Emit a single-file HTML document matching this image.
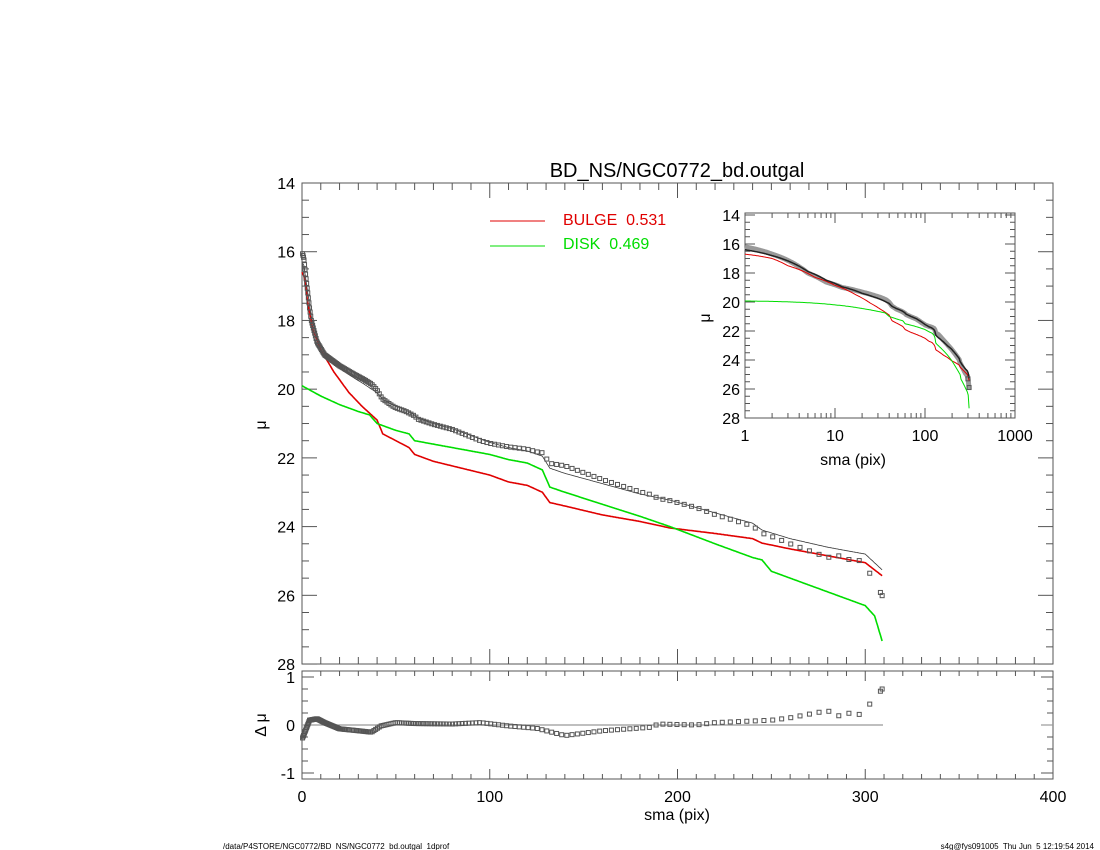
<!DOCTYPE html>
<html><head><meta charset="utf-8"><style>
body{margin:0;background:#fff;}
svg{display:block;font-family:"Liberation Sans",sans-serif;}
</style></head><body>
<svg id="s" width="1100" height="850" xmlns="http://www.w3.org/2000/svg"></svg>
<script>
const S=document.getElementById('s');let h='';
function interp(a,s){if(s<=a[0][0])return a[0][1];for(let i=1;i<a.length;i++){if(s<=a[i][0]){const t=(s-a[i-1][0])/(a[i][0]-a[i-1][0]);return a[i-1][1]+t*(a[i][1]-a[i-1][1]);}}return a[a.length-1][1];}
const model=[[0,16.3],[1,16.4],[2,16.8],[5,17.9],[8,18.5],[12,18.95],[20,19.4],[27,19.65],[33,19.85],[37,20.0],[40,20.1],[43,20.3],[48,20.45],[55,20.6],[60,20.75],[62,20.85],[70,21.0],[80,21.15],[90,21.35],[100,21.55],[110,21.7],[120,21.8],[128,21.95],[132,22.3],[140,22.45],[160,22.75],[180,23.05],[196,23.23],[220,23.6],[240,23.9],[245,24.1],[260,24.35],[280,24.6],[300,24.8],[309,25.26]];
const bulge=[[0,16.6],[1,16.7],[2,17.0],[3,17.5],[6,18.3],[10,18.85],[17,19.5],[25,20.1],[32,20.5],[36,20.7],[40,20.9],[43,21.3],[50,21.5],[57,21.7],[60,21.9],[70,22.1],[100,22.5],[110,22.7],[120,22.8],[128,23.0],[132,23.3],[140,23.4],[160,23.66],[180,23.85],[196,24.04],[220,24.2],[240,24.35],[245,24.48],[260,24.65],[280,24.85],[300,25.05],[309,25.43]];
const disk=[[0,19.9],[10,20.2],[20,20.45],[30,20.65],[36,20.75],[40,21.0],[50,21.2],[57,21.3],[60,21.5],[80,21.7],[100,21.9],[110,22.05],[120,22.15],[128,22.35],[132,22.85],[140,23.0],[160,23.35],[180,23.7],[196,24.0],[220,24.5],[240,24.9],[245,24.97],[250,25.3],[260,25.5],[280,25.9],[300,26.3],[305,26.6],[309,27.33]];
const resid=[[0,-0.3],[2,-0.1],[4,0.1],[8,0.13],[12,0.05],[20,-0.08],[30,-0.12],[37,-0.15],[42,-0.02],[50,0.05],[60,0.03],[80,0.02],[95,0.05],[110,-0.02],[125,-0.07],[140,-0.22],[160,-0.12],[185,-0.05],[190,0.02],[210,0],[220,0.05],[250,0.1],[260,0.15],[280,0.3],[285,0.18],[290,0.25],[297,0.22],[304,0.5],[309,0.75]];
const X=s=>302+s*1.8775, Y=m=>183+(m-14)*34.36;
const IX=s=>745+90*Math.log10(s), IY=m=>215+(m-14)*14.5;
const RY=r=>725-48*r;
function line(fx,fy,a,col,w,s0,s1){let p=[];for(let s=s0;s<=s1;s+=0.5){p.push(fx(s).toFixed(1)+','+fy(interp(a,s)).toFixed(1));}h+=`<polyline points="${p.join(' ')}" fill="none" stroke="${col}" stroke-width="${w}"/>`;}
let pts=[];let s=0.3;while(s<=309.5){pts.push(s);s=s*1.018+0.25;}pts.push(309);
h+=`<rect x="302" y="183" width="751" height="481" fill="none" stroke="#555" stroke-width="1"/>`;
for(let v=0;v<=400;v+=10){const x=X(v),L=v%100==0?15:7;h+=`<line x1="${x}" y1="664" x2="${x}" y2="${664-L}" stroke="#555"/><line x1="${x}" y1="183" x2="${x}" y2="${183+L}" stroke="#555"/>`;}
for(let m=14;m<=28;m+=0.5){const y=Y(m),L=m%2==0?15:7;h+=`<line x1="302" y1="${y}" x2="${302+L}" y2="${y}" stroke="#555"/><line x1="1053" y1="${y}" x2="${1053-L}" y2="${y}" stroke="#555"/>`;if(m%2==0)h+=`<text x="295" y="${y+6}" font-size="16" text-anchor="end">${m}</text>`;}
h+=`<text x="266" y="425" font-size="16" transform="rotate(-90 266 425)" text-anchor="middle">μ</text>`;
h+=`<text x="677" y="177" font-size="20" text-anchor="middle">BD_NS/NGC0772_bd.outgal</text>`;
line(X,Y,bulge,'#e00000',1.6,0,309);
line(X,Y,disk,'#00dd00',1.6,0,309);
line(X,Y,model,'#333',0.8,0,309);
for(const p of pts){const m=interp(model,p)+interp(resid,p);h+=`<rect x="${X(p)-2}" y="${Y(m)-2}" width="4" height="4" fill="none" stroke="#555" stroke-width="1"/>`;}
h+=`<line x1="490" y1="221" x2="545" y2="221" stroke="#e00000"/><text x="563" y="225" font-size="16" fill="#e00000">BULGE&#160; 0.531</text>`;
h+=`<line x1="490" y1="246" x2="545" y2="246" stroke="#00dd00"/><text x="563" y="249" font-size="16" fill="#00dd00">DISK&#160; 0.469</text>`;
h+=`<rect x="745" y="213" width="270" height="205" fill="#fff" stroke="#555"/>`;
for(let d=0;d<3;d++)for(let k=1;k<10;k++){const v=k*Math.pow(10,d),x=IX(v),L=k==1?10:5;h+=`<line x1="${x}" y1="418" x2="${x}" y2="${418-L}" stroke="#555"/><line x1="${x}" y1="213" x2="${x}" y2="${213+L}" stroke="#555"/>`;}
[1,10,100,1000].forEach(v=>{h+=`<text x="${IX(v)}" y="441" font-size="16" text-anchor="middle">${v}</text>`;});
for(let m=14;m<=28;m+=0.5){const y=IY(m),L=m%2==0?10:5;h+=`<line x1="745" y1="${y}" x2="${745+L}" y2="${y}" stroke="#555"/><line x1="1015" y1="${y}" x2="${1015-L}" y2="${y}" stroke="#555"/>`;if(m%2==0)h+=`<text x="740" y="${y+6}" font-size="16" text-anchor="end">${m}</text>`;}
h+=`<text x="853" y="465" font-size="16" text-anchor="middle">sma (pix)</text>`;
h+=`<text x="710" y="318" font-size="16" transform="rotate(-90 710 318)" text-anchor="middle">μ</text>`;
function lline(a,col,w){let p=[];for(let e=0;e<=Math.log10(309);e+=0.01){const v=Math.pow(10,e);p.push(IX(v).toFixed(1)+','+IY(interp(a,v)).toFixed(1));}p.push(IX(309)+','+IY(interp(a,309)));h+=`<polyline points="${p.join(' ')}" fill="none" stroke="${col}" stroke-width="${w}"/>`;}
const dat=model.map(q=>[q[0],q[1]+interp(resid,q[0])]);
lline(dat,'#999',5);lline(bulge,'#e00000',1);lline(disk,'#00dd00',1);lline(model,'#222',1.5);
h+=`<rect x="${IX(300)-2}" y="${IY(25.3)-2}" width="4" height="4" fill="none" stroke="#555"/><rect x="${IX(309)-2}" y="${IY(25.9)-2}" width="4" height="4" fill="none" stroke="#555"/>`;
h+=`<rect x="302" y="671" width="751" height="108" fill="none" stroke="#555"/>`;
for(let v=0;v<=400;v+=10){const x=X(v),L=v%100==0?10:5;h+=`<line x1="${x}" y1="779" x2="${x}" y2="${779-L}" stroke="#555"/><line x1="${x}" y1="671" x2="${x}" y2="${671+L}" stroke="#555"/>`;}
for(let r=-1;r<=1.001;r+=0.25){const y=RY(r),L=Math.abs(r%1)<0.01?12:6;h+=`<line x1="302" y1="${y}" x2="${302+L}" y2="${y}" stroke="#555"/><line x1="1053" y1="${y}" x2="${1053-L}" y2="${y}" stroke="#555"/>`;}
[[1,'1'],[0,'0'],[-1,'-1']].forEach(q=>{h+=`<text x="295" y="${RY(q[0])+6}" font-size="16" text-anchor="end">${q[1]}</text>`;});
h+=`<line x1="302" y1="725" x2="883" y2="725" stroke="#999" stroke-width="1.2"/><line x1="1041" y1="725" x2="1053" y2="725" stroke="#999" stroke-width="1.2"/>`;
for(const p of pts){const r=interp(resid,p);h+=`<rect x="${X(p)-2}" y="${RY(r)-2}" width="4" height="4" fill="none" stroke="#555" stroke-width="1"/>`;}
h+=`<text x="266" y="725" font-size="16" transform="rotate(-90 266 725)" text-anchor="middle">Δ μ</text>`;
[0,100,200,300,400].forEach(v=>{h+=`<text x="${X(v)}" y="802" font-size="16" text-anchor="middle">${v}</text>`;});
h+=`<text x="677" y="820" font-size="16" text-anchor="middle">sma (pix)</text>`;
h+=`<text x="223" y="849" font-size="8">/data/P4STORE/NGC0772/BD_NS/NGC0772_bd.outgal_1dprof</text>`;
h+=`<text x="1094" y="849" font-size="8" text-anchor="end">s4g@fys091005&#160; Thu Jun&#160; 5 12:19:54 2014</text>`;
S.innerHTML=h;
</script>
</body></html>
